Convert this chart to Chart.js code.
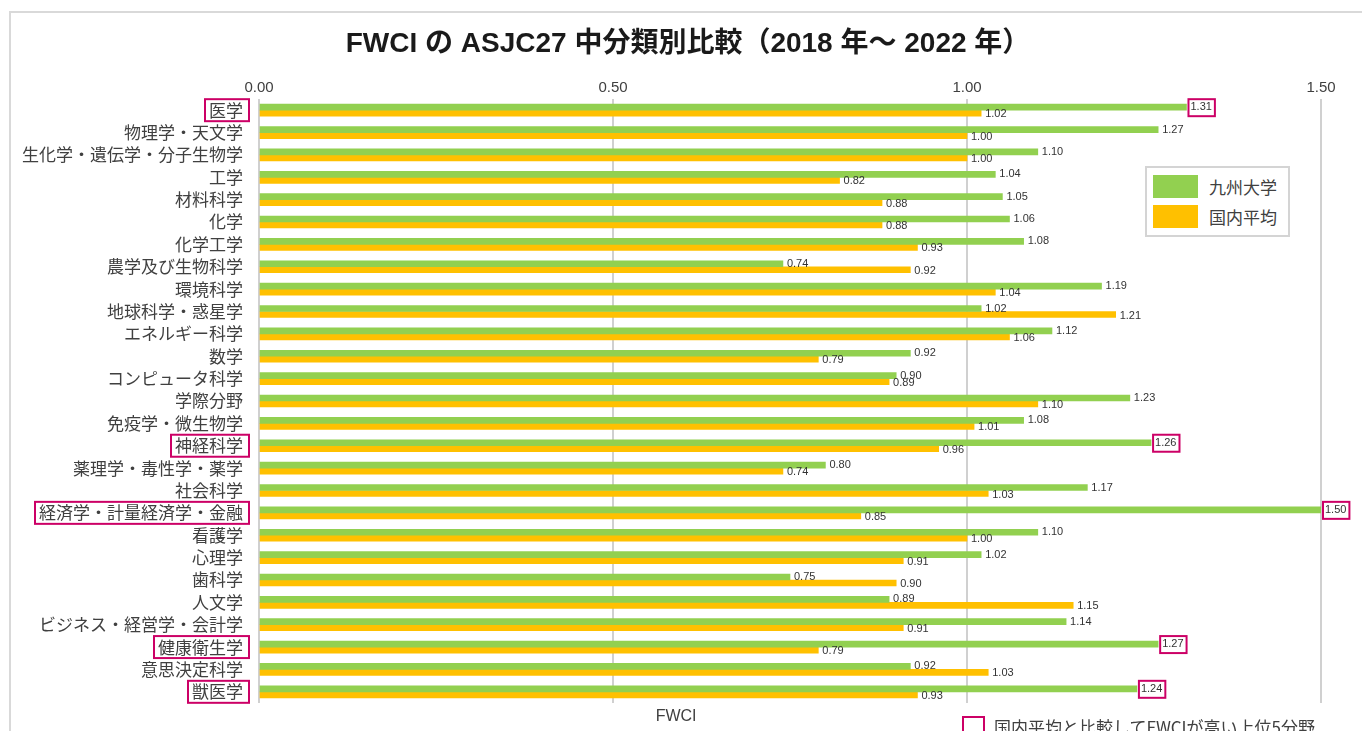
<!DOCTYPE html>
<html><head><meta charset="utf-8">
<script src="https://cdn.jsdelivr.net/npm/chart.js@4.4.1/dist/chart.umd.min.js"></script>
<style>
html,body{margin:0;padding:0;background:#fff;overflow:hidden;}
#wrap{position:relative;width:1362px;height:731px;overflow:hidden;font-family:"Noto Sans CJK JP","Noto Sans",sans-serif;color:#404040;}
#frame{position:absolute;left:9px;top:11px;width:1420px;height:800px;border:2px solid #d9d9d9;box-sizing:border-box;}
#c{position:absolute;left:0;top:0;}
#title{position:absolute;left:0;width:1376px;top:26px;text-align:center;font-family:"Liberation Sans","Noto Sans CJK JP",sans-serif;font-weight:bold;font-size:28px;line-height:34px;color:#1a1a1a;white-space:nowrap;}
#legend{position:absolute;left:1145px;top:166px;width:145px;height:71px;border:2px solid #d4d4d4;background:#fff;box-sizing:border-box;}
.li{position:absolute;left:6px;height:23px;display:flex;align-items:center;font-size:17px;}
.sw{width:45px;height:23px;margin-right:11px;}
#axisTitle{position:absolute;top:707px;font-size:16px;font-family:"Liberation Sans",Arial,sans-serif;}
#note{position:absolute;left:962px;top:714px;display:flex;align-items:flex-start;font-size:17px;white-space:nowrap;}
#note .sq{width:19px;height:19px;border:2px solid #cc0066;margin-right:9px;margin-top:2px;}
</style>
</head><body>
<div id="wrap">
<div id="frame"></div>
<canvas id="c" width="1362" height="731"></canvas>
<div id="title"></div>
<div id="legend"></div>
<div id="axisTitle"></div>
<div id="note"><div class="sq"></div><span id="noteText"></span></div>
</div>
<script>
const categories = ['医学','物理学・天文学','生化学・遺伝学・分子生物学','工学','材料科学','化学','化学工学','農学及び生物科学','環境科学','地球科学・惑星学','エネルギー科学','数学','コンピュータ科学','学際分野','免疫学・微生物学','神経科学','薬理学・毒性学・薬学','社会科学','経済学・計量経済学・金融','看護学','心理学','歯科学','人文学','ビジネス・経営学・会計学','健康衛生学','意思決定科学','獣医学'];
const kyushu   = [1.31,1.27,1.10,1.04,1.05,1.06,1.08,0.74,1.19,1.02,1.12,0.92,0.90,1.23,1.08,1.26,0.80,1.17,1.50,1.10,1.02,0.75,0.89,1.14,1.27,0.92,1.24];
const national = [1.02,1.00,1.00,0.82,0.88,0.88,0.93,0.92,1.04,1.21,1.06,0.79,0.89,1.10,1.01,0.96,0.74,1.03,0.85,1.00,0.91,0.90,1.15,0.91,0.79,1.03,0.93];
const highlighted = ['医学','神経科学','経済学・計量経済学・金融','健康衛生学','獣医学'];
const seriesNames = ['九州大学','国内平均'];
const seriesColors = ['#92D050','#FFC000'];
const xTickValues = [0, 0.5, 1.0, 1.5];
const titleText = 'FWCI の ASJC27 中分類別比較（2018 年～ 2022 年）';
const axisTitleText = 'FWCI';
const noteText = '国内平均と比較してFWCIが高い上位5分野';

const FONT = '"Noto Sans CJK JP","Noto Sans",sans-serif';
const NUMFONT = '"Liberation Sans",Arial,sans-serif';
const MAG = '#cc0066';

document.getElementById('title').textContent = titleText;
const lg = document.getElementById('legend');
seriesNames.forEach((n,i)=>{
  const d = document.createElement('div'); d.className='li'; d.style.top = (7 + i*30)+'px';
  d.innerHTML = '<div class="sw" style="background:'+seriesColors[i]+'"></div><span>'+n+'</span>';
  lg.appendChild(d);
});
document.getElementById('noteText').textContent = noteText;

const labelPlugin = {
  id:'labels',
  afterDraw(chart){
    const ctx = chart.ctx;
    const ys = chart.scales.y;
    ctx.save();
    ctx.font = '11px ' + NUMFONT;
    ctx.textBaseline = 'middle';
    ctx.textAlign = 'left';
    chart.data.datasets.forEach((ds, di)=>{
      const meta = chart.getDatasetMeta(di);
      meta.data.forEach((bar, i)=>{
        const txt = ds.data[i].toFixed(2);
        const x = bar.x + 4, y = bar.y + (di===1?1:0);
        const hl = di===0 && highlighted.includes(categories[i]);
        if (hl){
          const w = ctx.measureText(txt).width;
          ctx.fillStyle='#fff';
          ctx.fillRect(bar.x+2, y-8, w+5, 17);
          ctx.strokeStyle = MAG; ctx.lineWidth = 2;
          ctx.strokeRect(bar.x+2, y-8, w+5, 17);
        }
        ctx.fillStyle = '#333';
        ctx.fillText(txt, x, y);
      });
    });
    ctx.font = '17px ' + FONT;
    categories.forEach((c,i)=>{
      if(!highlighted.includes(c)) return;
      const y = ys.getPixelForTick(i);
      const w = ctx.measureText(c).width;
      const right = ys.right - 13;
      ctx.strokeStyle = MAG; ctx.lineWidth = 2;
      ctx.strokeRect(right - w - 7, y - 11, w + 10, 22);
    });
    ctx.restore();
    const at = document.getElementById('axisTitle');
    at.textContent = axisTitleText;
    const ca = chart.chartArea;
    at.style.left = (ca.left + (ca.right-ca.left)*0.3735) + 'px';
  }
};

new Chart(document.getElementById('c'), {
  type:'bar',
  data:{
    labels: categories,
    datasets:[
      {label:seriesNames[0], data:kyushu, backgroundColor:seriesColors[0], barThickness:6},
      {label:seriesNames[1], data:national, backgroundColor:seriesColors[1], barThickness:6}
    ]
  },
  options:{
    indexAxis:'y', responsive:false, animation:false,
    layout:{padding:{left:0,right:41,top:70.6,bottom:28}},
    plugins:{ legend:{display:false}, tooltip:{enabled:false}, title:{display:false} },
    scales:{
      x:{position:'top', min:0, max:1.5,
        afterBuildTicks:s=>{ s.ticks = xTickValues.map(v=>({value:v})); },
        ticks:{callback:v=>Number(v).toFixed(2), font:{family:NUMFONT,size:15}, color:'#404040', padding:2},
        grid:{color:'#d0d0d0', lineWidth:2, drawTicks:false},
        border:{display:false},
        afterFit:s=>{ s.height = 28.4; }
      },
      y:{
        ticks:{font:{family:FONT,size:17}, color:'#404040', padding:16, autoSkip:false},
        grid:{display:false, drawTicks:false},
        border:{display:false},
        afterFit:s=>{ s.width = 259; }
      }
    }
  },
  plugins:[labelPlugin]
});
</script>
</body></html>
